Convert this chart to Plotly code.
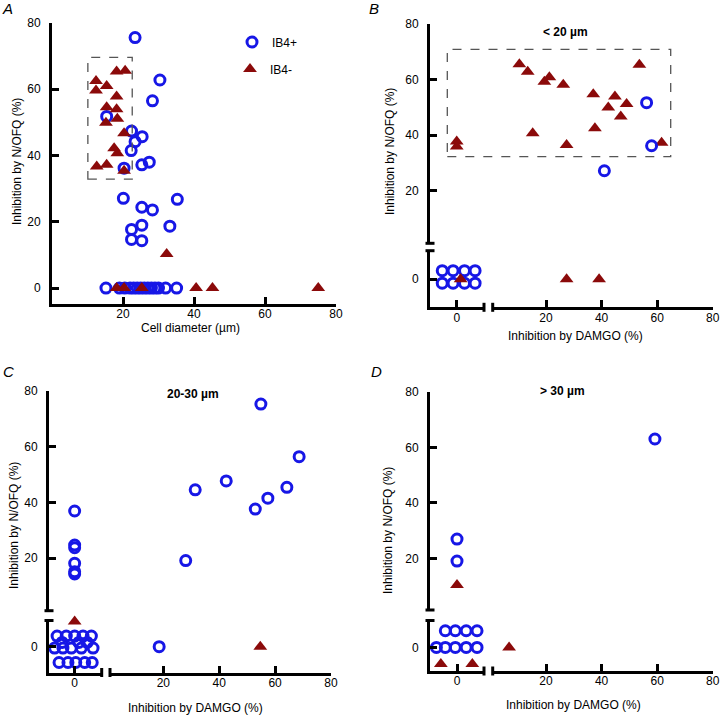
import plotly.graph_objects as go

W, H = 720, 715
BLUE = "#1717e6"
RED = "#8b0a0a"
FONT = "Liberation Sans, Arial, sans-serif"

# ---------------- data ----------------
# Panel A: cell diameter (um) vs inhibition by N/OFQ (%)
a_ib4p_diam = [23.4, 30.4, 28.3, 15.4, 22.4, 25.4, 23.4, 22.3, 27.4, 25.3,
               20.3, 20.1, 35.3, 25.3, 28.3, 25.3, 33.2, 22.4, 22.4, 25.3,
               15.2, 19.0, 20.5, 22.0, 23.0, 24.0, 25.0, 26.0, 27.0, 28.0,
               29.0, 30.0, 32.0, 35.1]
a_ib4p_nofq = [75.6, 62.8, 56.5, 51.8, 47.4, 45.7, 44.2, 41.5, 38.0, 37.2,
               36.2, 27.1, 26.8, 24.4, 23.6, 19.0, 18.7, 17.7, 14.7, 14.3,
               0, 0, 0, 0, 0, 0, 0, 0, 0, 0,
               0, 0, 0, 0]
a_ib4n_diam = [12.4, 12.4, 15.4, 18.2, 20.6, 18.2, 15.4, 18.2, 18.4, 15.2,
               20.3, 17.5, 18.4, 12.6, 15.4, 20.3, 32.3, 18.2, 20.3, 25.3,
               40.6, 45.2, 75.0]
a_ib4n_nofq = [62.5, 59.6, 61.0, 65.4, 65.6, 57.8, 54.6, 54.0, 51.1, 49.9,
               46.7, 42.2, 40.7, 36.7, 37.2, 35.4, 10.3, 0, 0, 0,
               0, 0, 0]
a_box_diam = [10.1, 22.6]
a_box_nofq = [32.9, 69.6]

# Panels B-D: inhibition by DAMGO (%) vs inhibition by N/OFQ (%)
# split by broken-axis quadrant: ll = both ~0, ul = DAMGO ~0, lr = N/OFQ ~0, ur = both > 0
b_ur_ib4n_damgo = [10.4, 13.4, 19.4, 21.2, 26.2, 37.0, 44.8, 42.4, 49.0, 46.9, 53.6, 15.2, 37.6, 27.4, 61.6]
b_ur_ib4n_nofq = [65.5, 62.8, 59.2, 60.8, 58.1, 54.7, 53.9, 50.0, 51.2, 46.7, 65.3, 40.7, 42.5, 36.5, 37.3]
b_ur_ib4p_damgo = [56.2, 58.0, 41.0]
b_ur_ib4p_nofq = [51.7, 36.2, 27.2]
b_ul_ib4n_damgo = [0, 0]
b_ul_ib4n_nofq = [37.7, 35.9]
b_lr_ib4n_damgo = [27.4, 39.1]
b_lr_ib4n_nofq = [0, 0]
b_ll_ib4p_damgo = [-5.2, -1.3, 2.8, 6.6, -5.2, -1.3, 2.8, 6.6]
b_ll_ib4p_nofq = [3.1, 3.1, 3.1, 3.1, -1.4, -1.4, -1.4, -1.4]
b_ll_ib4n_damgo = [1.4]
b_ll_ib4n_nofq = [0]

c_ur_ib4p_damgo = [54.9, 68.6, 42.5, 31.4, 64.2, 57.4, 52.9, 28.0]
c_ur_ib4p_nofq = [75.3, 56.4, 47.7, 44.5, 45.4, 41.5, 37.6, 19.1]
c_ul_ib4p_damgo = [0, 0, 0, 0, 0, 0]
c_ul_ib4p_nofq = [36.9, 24.7, 23.7, 18.1, 15.1, 14.3]
c_lr_ib4p_damgo = [18.5]
c_lr_ib4p_nofq = [0]
c_lr_ib4n_damgo = [54.7]
c_lr_ib4n_nofq = [0]
c_ll_ib4n_damgo = [0]
c_ll_ib4n_nofq = [9.0]
c_ll_ib4p_damgo = [-6.3, -3.0, 0.0, 3.0, 6.0,
                   -4.5, 1.5, 4.5,
                   -7.2, -4.2, -1.2, 2.4, 6.6,
                   -5.6, -2.4, 0.4, 3.6, 6.3]
c_ll_ib4p_nofq = [3.8, 3.8, 3.8, 3.8, 3.8,
                  1.5, 1.5, 1.5,
                  -0.5, -0.5, -0.5, -0.5, -0.5,
                  -5.7, -5.7, -5.7, -5.7, -5.7]

d_ur_ib4p_damgo = [59.2]
d_ur_ib4p_nofq = [63.0]
d_ul_ib4p_damgo = [0, 0]
d_ul_ib4p_nofq = [27.0, 19.1]
d_ul_ib4n_damgo = [0]
d_ul_ib4n_nofq = [10.5]
d_ll_ib4p_damgo = [-4.2, -0.6, 3.3, 7.2, -7.4, -4.2, -0.6, 3.3, 7.2]
d_ll_ib4p_nofq = [6.0, 6.0, 6.0, 6.0, 0, 0, 0, 0, 0]
d_ll_ib4n_damgo = [-5.8, 5.5]
d_ll_ib4n_nofq = [-6.0, -6.0]
d_lr_ib4n_damgo = [6.7]
d_lr_ib4n_nofq = [0]


def px(x):
    return x / W


def py(y):
    return 1 - y / H


fig = go.Figure()


def add_pts(x, y, xa, ya, kind, legend=None):
    if kind == "ib4p":
        marker = dict(symbol="circle-open", size=10, color=BLUE,
                      line=dict(width=3, color=BLUE))
        name = "IB4+"
    else:
        marker = dict(symbol="triangle-up", size=12, color=RED, line=dict(width=0))
        name = "IB4-"
    fig.add_trace(go.Scatter(x=x, y=y, xaxis=xa, yaxis=ya, mode="markers",
                             marker=marker, name=name,
                             showlegend=legend is not None,
                             legend=legend or "legend",
                             cliponaxis=False, hoverinfo="skip"))


# panel A
add_pts(a_ib4p_diam, a_ib4p_nofq, "x", "y", "ib4p", "legend")
add_pts(a_ib4n_diam, a_ib4n_nofq, "x", "y", "ib4n", "legend2")

# panel B: x2 left, x3 right, y2 lower, y3 upper
add_pts(b_ur_ib4n_damgo, b_ur_ib4n_nofq, "x3", "y3", "ib4n")
add_pts(b_ur_ib4p_damgo, b_ur_ib4p_nofq, "x3", "y3", "ib4p")
add_pts(b_ul_ib4n_damgo, b_ul_ib4n_nofq, "x2", "y3", "ib4n")
add_pts(b_lr_ib4n_damgo, b_lr_ib4n_nofq, "x3", "y2", "ib4n")
add_pts(b_ll_ib4p_damgo, b_ll_ib4p_nofq, "x2", "y2", "ib4p")
add_pts(b_ll_ib4n_damgo, b_ll_ib4n_nofq, "x2", "y2", "ib4n")

# panel C: x4 left, x5 right, y4 lower, y5 upper
add_pts(c_ur_ib4p_damgo, c_ur_ib4p_nofq, "x5", "y5", "ib4p")
add_pts(c_ul_ib4p_damgo, c_ul_ib4p_nofq, "x4", "y5", "ib4p")
add_pts(c_lr_ib4p_damgo, c_lr_ib4p_nofq, "x5", "y4", "ib4p")
add_pts(c_lr_ib4n_damgo, c_lr_ib4n_nofq, "x5", "y4", "ib4n")
add_pts(c_ll_ib4p_damgo, c_ll_ib4p_nofq, "x4", "y4", "ib4p")
add_pts(c_ll_ib4n_damgo, c_ll_ib4n_nofq, "x4", "y4", "ib4n")

# panel D: x6 left, x7 right, y6 lower, y7 upper
add_pts(d_ur_ib4p_damgo, d_ur_ib4p_nofq, "x7", "y7", "ib4p")
add_pts(d_ul_ib4p_damgo, d_ul_ib4p_nofq, "x6", "y7", "ib4p")
add_pts(d_ul_ib4n_damgo, d_ul_ib4n_nofq, "x6", "y7", "ib4n")
add_pts(d_ll_ib4p_damgo, d_ll_ib4p_nofq, "x6", "y6", "ib4p")
add_pts(d_ll_ib4n_damgo, d_ll_ib4n_nofq, "x6", "y6", "ib4n")
add_pts(d_lr_ib4n_damgo, d_lr_ib4n_nofq, "x7", "y6", "ib4n")

axis_style = dict(showline=True, linecolor="black", linewidth=3,
                  ticks="inside", ticklen=7, tickwidth=3, tickcolor="black",
                  showgrid=False, zeroline=False, fixedrange=True, automargin=False,
                  tickfont=dict(family=FONT, size=12, color="black"))

axes = {}


def xaxis(key, p0, p1, rng, ticks, anchor):
    axes[key] = dict(axis_style, domain=[px(p0), px(p1)], range=rng,
                     tickvals=ticks, anchor=anchor, ticklabelstandoff=-3)


def yaxis(key, pbot, ptop, rng, ticks, anchor):
    axes[key] = dict(axis_style, domain=[py(pbot), py(ptop)], range=rng,
                     tickvals=ticks, anchor=anchor, ticklabelstandoff=6)


xaxis("xaxis", 52, 336, [0, 80], [20, 40, 60, 80], "y")
yaxis("yaxis", 304, 23, [-4.8, 80], [0, 20, 40, 60, 80], "x")

xaxis("xaxis2", 430, 484, [-9.6, 9.8], [0], "y2")
xaxis("xaxis3", 492.7, 712.7, [0.8, 80], [20, 40, 60, 80], "y2")
yaxis("yaxis2", 307.3, 250.7, [-10.1, 10.3], [0], "x2")
yaxis("yaxis3", 243.3, 24, [1.1, 80], [20, 40, 60, 80], "x2")

xaxis("xaxis4", 49, 101.7, [-9.2, 9.7], [0], "y4")
xaxis("xaxis5", 110, 331, [0.9, 80], [20, 40, 60, 80], "y4")
yaxis("yaxis4", 672.5, 620.5, [-9.3, 9.4], [0], "x4")
yaxis("yaxis5", 610.7, 391, [1.1, 80], [20, 40, 60, 80], "x4")

xaxis("xaxis6", 430, 484, [-9.7, 9.7], [0], "y6")
xaxis("xaxis7", 492.7, 712.7, [0.8, 80], [20, 40, 60, 80], "y6")
yaxis("yaxis6", 671, 620.5, [-8.5, 9.7], [0], "x6")
yaxis("yaxis7", 610, 391.7, [1.5, 80], [20, 40, 60, 80], "x6")

shapes = []
# dashed selection boxes
shapes.append(dict(type="rect", xref="x", yref="y",
                   x0=a_box_diam[0], x1=a_box_diam[1], y0=a_box_nofq[0], y1=a_box_nofq[1],
                   line=dict(color="#555555", width=1.3, dash="dash")))
shapes.append(dict(type="rect", xref="paper", yref="paper",
                   x0=px(447.3), x1=px(670.7), y0=py(156.7), y1=py(49.3),
                   line=dict(color="#555555", width=1.3, dash="dash")))


# break caps on the broken axes
def hcap(x, y):
    shapes.append(dict(type="line", xref="paper", yref="paper",
                       x0=px(x - 4.5), x1=px(x + 4.5), y0=py(y), y1=py(y),
                       line=dict(color="black", width=3)))


def vcap(x, y):
    shapes.append(dict(type="line", xref="paper", yref="paper",
                       x0=px(x), x1=px(x), y0=py(y - 4.5), y1=py(y + 4.5),
                       line=dict(color="black", width=3)))


for yx, upper_bot, lower_top, xy, left_end, right_start in [
        (430, 243.3, 250.7, 307.3, 484, 492.7),
        (49, 610.7, 620.5, 672.5, 101.7, 110),
        (430, 610, 620.5, 671, 484, 492.7)]:
    hcap(yx, upper_bot)
    hcap(yx, lower_top)
    vcap(left_end, xy)
    vcap(right_start, xy)

annotations = []


def text(x, y, s, size=12, bold=False, italic=False, angle=0):
    annotations.append(dict(xref="paper", yref="paper", x=px(x), y=py(y),
                            text=("<b>%s</b>" % s) if bold else (("<i>%s</i>" % s) if italic else s),
                            showarrow=False, textangle=angle,
                            xanchor="center", yanchor="middle",
                            font=dict(family=FONT, size=size, color="black")))


for x, y, s in [(7, 9, "A"), (374, 8, "B"), (8, 371, "C"), (376, 371, "D")]:
    text(x, y, s, size=15, italic=True)

text(565, 32, "&lt; 20 µm", bold=True)
text(193, 394, "20-30 µm", bold=True)
text(562, 391, "&gt; 30 µm", bold=True)

text(17, 162, "Inhibition by N/OFQ (%)", angle=-90)
text(390, 152, "Inhibition by N/OFQ (%)", angle=-90)
text(14, 526, "Inhibition by N/OFQ (%)", angle=-90)
text(388, 531, "Inhibition by N/OFQ (%)", angle=-90)

text(190, 328, "Cell diameter (µm)")
text(575, 336, "Inhibition by DAMGO (%)")
text(195, 708, "Inhibition by DAMGO (%)")
text(573, 705, "Inhibition by DAMGO (%)")

legend_style = dict(xanchor="left", yanchor="middle", bgcolor="rgba(0,0,0,0)",
                    font=dict(family=FONT, size=12, color="black"),
                    borderwidth=0)

fig.update_layout(
    width=W, height=H,
    margin=dict(l=0, r=0, t=0, b=0, autoexpand=False),
    paper_bgcolor="white", plot_bgcolor="white",
    showlegend=True,
    legend=dict(legend_style, x=px(232), y=py(42)),
    legend2=dict(legend_style, x=px(230), y=py(69)),
    shapes=shapes,
    annotations=annotations,
    **axes,
)

fig.write_html("out.html", config={"displayModeBar": False},
               post_script="document.body.style.margin='0px';document.body.style.overflow='hidden';")
